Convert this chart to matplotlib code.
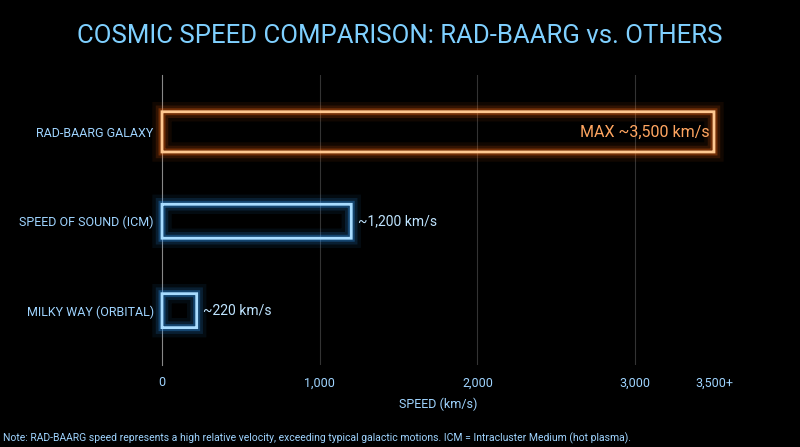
import matplotlib
matplotlib.use("Agg")
import matplotlib.pyplot as plt
from matplotlib.patches import FancyBboxPatch

categories = ["MILKY WAY (ORBITAL)", "SPEED OF SOUND (ICM)", "RAD-BAARG GALAXY"]
values = [220, 1200, 3500]
labels = ["~220 km/s", "~1,200 km/s", "MAX ~3,500 km/s"]
xticks = [0, 1000, 2000, 3000, 3500]
xticklabels = ["0", "1,000", "2,000", "3,000", "3,500+"]

plt.rcParams['font.family'] = ['Roboto', 'DejaVu Sans']
fig = plt.figure(figsize=(8, 4.47), dpi=100, facecolor='black')
ax = fig.add_axes([0.2025, 0.183, 0.69, 0.65], facecolor='black')
ax.set_xlim(0, 3500)
ax.set_ylim(-0.61, 2.64)

blue = '#2f9dff'
orange = '#ff6a10'
heights = [0.38, 0.38, 0.45]
for i, (v, h) in enumerate(zip(values, heights)):
    col = orange if i == 2 else blue
    for lw, a in [(14, 0.07), (9, 0.14), (5, 0.3)]:
        ax.add_patch(FancyBboxPatch((0, i - h/2), v, h, boxstyle="round,pad=0,rounding_size=0.05",
                                    fill=False, ec=col, lw=lw, alpha=a, clip_on=False, zorder=3))
    ax.add_patch(FancyBboxPatch((0, i - h/2), v, h, boxstyle="round,pad=0,rounding_size=0.05",
                                fill=False, ec='#ffc890' if i == 2 else '#a8dcff', lw=2,
                                clip_on=False, zorder=4))
    if i == 2:
        ax.text(v - 30, i, labels[i], color='#ffa560', fontsize=11.5, va='center', ha='right', zorder=5)
    else:
        ax.text(v + 40, i, labels[i], color='#bfe4ff', fontsize=10, va='center', ha='left', zorder=5)

ax.set_yticks(range(3))
ax.set_yticklabels(categories, color='#9fd4ff', fontsize=9)
ax.set_xticks(xticks)
ax.set_xticklabels(xticklabels, color='#9fd4ff', fontsize=9)
ax.tick_params(length=0, pad=8)
ax.tick_params(axis='y', pad=6)
for x in [1000, 2000, 3000]:
    ax.axvline(x, color='#333333', lw=0.8, zorder=0)
for s in ['top', 'right', 'bottom']:
    ax.spines[s].set_visible(False)
ax.spines['left'].set_color('#888888')
ax.set_xlabel("SPEED (km/s)", color='#9fd4ff', fontsize=9, labelpad=6)

fig.text(0.5, 0.92, "COSMIC SPEED COMPARISON: RAD-BAARG vs. OTHERS", color='#7fd0ff',
         fontsize=18.5, ha='center', va='center')
fig.text(0.004, 0.02, "Note: RAD-BAARG speed represents a high relative velocity, exceeding typical galactic motions. ICM = Intracluster Medium (hot plasma).",
         color='#9fd4ff', fontsize=7.5, ha='left', va='center')
fig.savefig("out.png", dpi=100, facecolor='black')
